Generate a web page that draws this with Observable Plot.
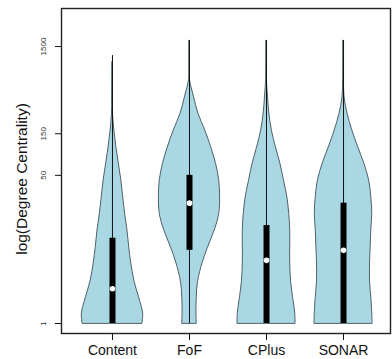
<!DOCTYPE html>
<html><head><meta charset="utf-8">
<script src="https://cdn.jsdelivr.net/npm/d3@7"></script>
<script src="https://cdn.jsdelivr.net/npm/@observablehq/plot@0.6"></script>
<style>body{margin:0;background:#fff}</style>
</head><body><div id="chart"></div>
<script>
// Categories and y tick labels
const categories = ["Content", "FoF", "CPlus", "SONAR"];
const yTicks = [1, 50, 150, 1500];

// Value levels (degree centrality) at which violin densities were read
const levels = [1, 1.3, 2, 3, 5, 7.5, 12, 18, 28, 44, 68, 104, 163, 256, 400, 620, 1000, 1760];

// Relative densities (violin half-widths) per category at each level
const densityContent = [0.95, 0.97, 0.84, 0.70, 0.59, 0.53, 0.47, 0.40, 0.34, 0.28, 0.20, 0.125, 0.06, 0.016, 0.01, 0.006, 0.003, null];
const densityFoF     = [0.23, 0.22, 0.23, 0.27, 0.42, 0.59, 0.81, 0.94, 0.97, 0.94, 0.84, 0.69, 0.50, 0.28, 0.14, 0.016, 0.006, 0.003];
const densityCPlus   = [0.92, 0.91, 0.84, 0.78, 0.75, 0.75, 0.75, 0.72, 0.66, 0.55, 0.44, 0.30, 0.17, 0.09, 0.047, 0.012, 0.006, 0.003];
const densitySONAR   = [0.92, 0.91, 0.88, 0.84, 0.84, 0.86, 0.88, 0.91, 0.88, 0.81, 0.66, 0.47, 0.28, 0.125, 0.03, 0.012, 0.006, 0.003];

// Box-plot summary per category
const mins    = [1, 1, 1, 1];
const q1s     = [1, 6.9, 1, 1];
const medians = [2.5, 24, 5.3, 6.9];
const q3s     = [9.5, 50, 13.3, 24];
const maxs    = [1180, 1760, 1760, 1760];

const densities = [densityContent, densityFoF, densityCPlus, densitySONAR];
const violinRows = [];
categories.forEach((c, i) => levels.forEach((v, j) => {
  const d = densities[i][j];
  if (d != null) violinRows.push({cat: c, i, value: v, d});
}));
const stats = categories.map((c, i) => ({cat: c, i, min: mins[i], q1: q1s[i], med: medians[i], q3: q3s[i], max: maxs[i]}));
const maxHalf = 0.41;

const chart = Plot.plot({
  width: 392, height: 359,
  marginLeft: 61, marginRight: 2, marginTop: 8, marginBottom: 26,
  style: {fontFamily: "Liberation Sans, Arial, sans-serif", background: "#fff", color: "#111"},
  x: {type: "linear", domain: [-0.662, 3.61]},
  y: {type: "log", domain: [0.768, 4095]},
  marks: [
    Plot.areaX(violinRows, {y: "value", x1: d => d.i - d.d * maxHalf, x2: d => d.i + d.d * maxHalf, z: "cat",
      fill: "#a9d7e4", stroke: "#4f6168", strokeWidth: 1, curve: "catmull-rom"}),
    Plot.ruleX(stats, {x: "i", y1: "min", y2: "max", stroke: "#111", strokeWidth: 1}),
    Plot.ruleX(stats, {x: "i", y1: "q1", y2: "q3", stroke: "#000", strokeWidth: 6}),
    Plot.dot(stats, {x: "i", y: "med", r: 2.8, fill: "#fff", stroke: null}),
    Plot.frame({stroke: "#222", strokeWidth: 1.4}),
    Plot.axisY({ticks: yTicks, tickFormat: () => "", tickSize: 6, label: null}),
    Plot.text(yTicks, {y: d => d, text: d => String(d), frameAnchor: "left", textAnchor: "middle", rotate: -90, dx: -18, fontSize: 8, fill: "#333"}),
    Plot.text(["log(Degree Centrality)"], {frameAnchor: "left", textAnchor: "middle", rotate: -90, dx: -39, dy: 8, fontSize: 15.5, fill: "#111"}),
    Plot.axisX({ticks: [0, 1, 2, 3], tickFormat: i => categories[i], tickSize: 7, tickPadding: 5, fontSize: 14, label: null})
  ]
});
document.getElementById("chart").appendChild(chart);
</script>
</body></html>
